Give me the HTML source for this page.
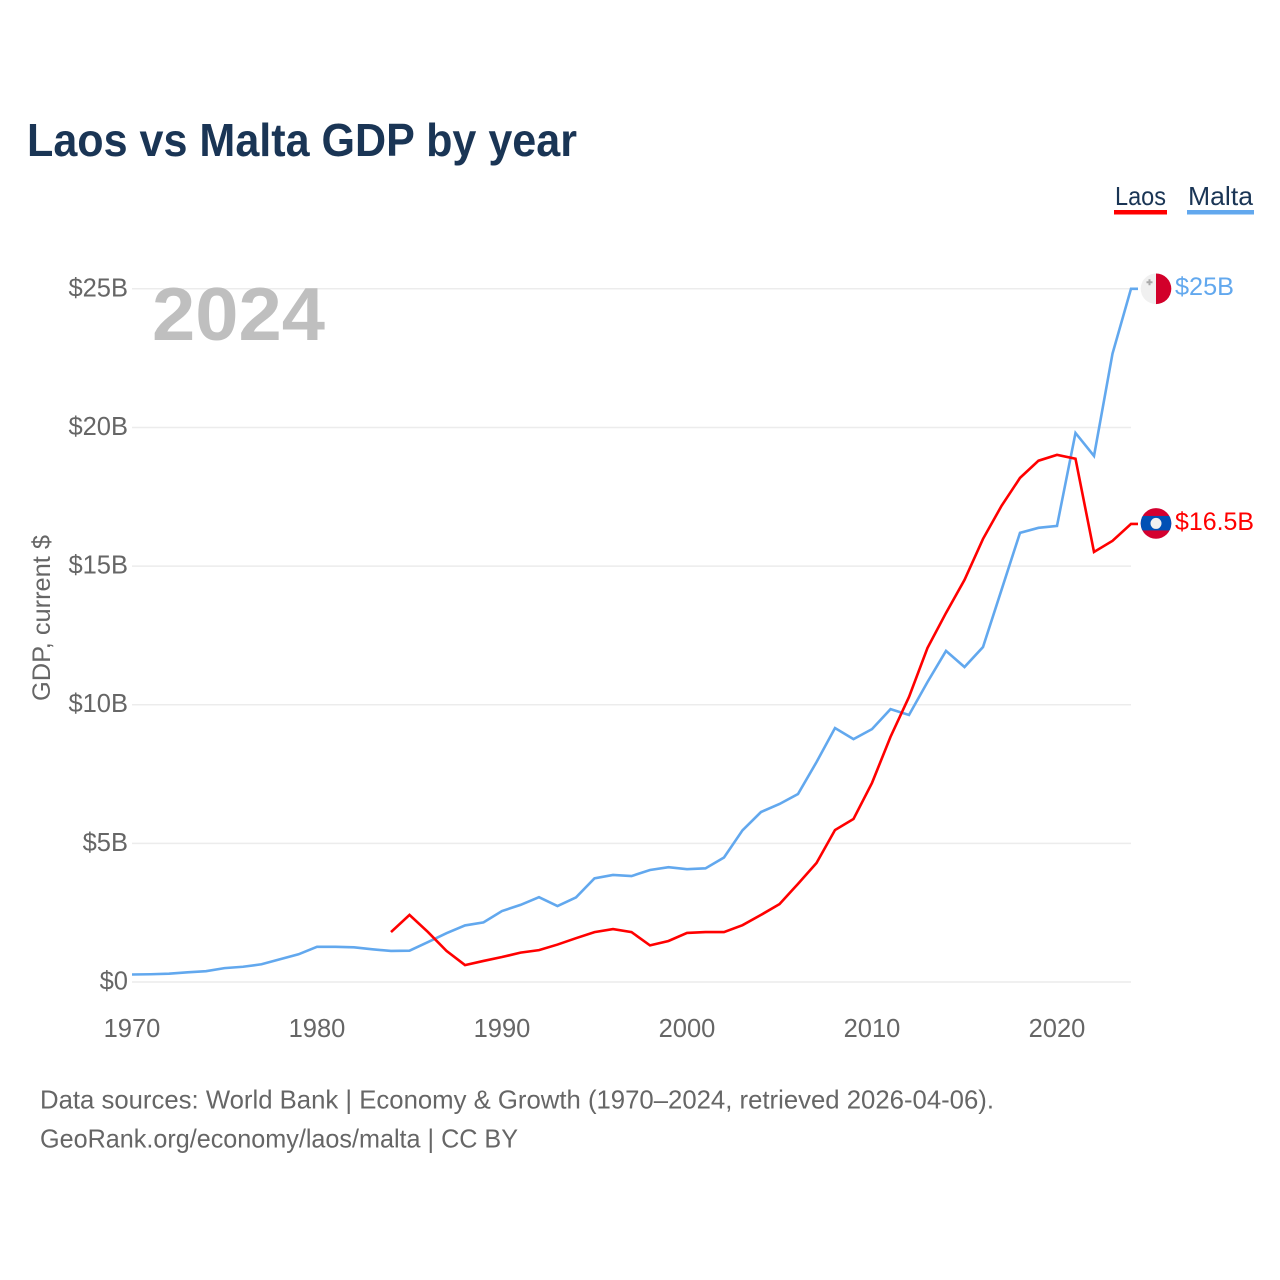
<!DOCTYPE html>
<html lang="en">
<head>
<meta charset="utf-8">
<title>Laos vs Malta GDP by year</title>
<style>
html,body{margin:0;padding:0;background:#fff;width:1280px;height:1280px;overflow:hidden}
svg{display:block;font-family:"Liberation Sans",sans-serif}
</style>
</head>
<body>
<svg id="chart" width="1280" height="1280" viewBox="0 0 1280 1280" xmlns="http://www.w3.org/2000/svg">
  <defs>
    <clipPath id="flag-clip"><circle cx="0" cy="0" r="15.3"></circle></clipPath>
  </defs>
  <text x="27" y="156" font-size="46" font-weight="700" fill="#1a3555" textLength="550" lengthAdjust="spacingAndGlyphs">Laos vs Malta GDP by year</text>

  <g>
    <g>
      <text x="1115" y="205" font-size="26" fill="#1a3555" textLength="51" lengthAdjust="spacingAndGlyphs">Laos</text>
      <rect x="1114" y="210" width="53" height="4.5" fill="#ff0000"></rect>
    </g>
    <g>
      <text x="1188" y="205" font-size="26" fill="#1a3555" textLength="65" lengthAdjust="spacingAndGlyphs">Malta</text>
      <rect x="1187" y="210" width="67" height="4.5" fill="#62a8ee"></rect>
    </g>
  </g>

  <g id="grid"></g>
  <g id="y-axis"></g>
  <g id="x-axis"></g>
  <text x="0" y="0" transform="translate(50 618) rotate(-90)" text-anchor="middle" font-size="25" fill="#666" textLength="166" lengthAdjust="spacingAndGlyphs">GDP, current $</text>

  <text x="152" y="340" font-size="75" font-weight="700" fill="#bfbfbf" textLength="173" lengthAdjust="spacingAndGlyphs">2024</text>

  <g id="series"></g>

  <g id="flag-malta">
    <g clip-path="url(#flag-clip)">
      <rect x="-16" y="-16" width="16" height="32" fill="#f0f0f0"></rect>
      <rect x="0" y="-16" width="16" height="32" fill="#d2002a"></rect>
      <path d="M-7.5 -9.5h2v2h2v2h-2v2h-2v-2h-2v-2h2z" fill="#a9a9a9"></path>
    </g>
  </g>
  <g id="flag-laos">
    <g clip-path="url(#flag-clip)">
      <rect x="-16" y="-16" width="32" height="32" fill="#d4002f"></rect>
      <rect x="-16" y="-7.5" width="32" height="14.5" fill="#0050b5"></rect>
      <circle cx="0" cy="0" r="5.5" fill="#f0f0f0"></circle>
    </g>
  </g>
  <text id="label-malta" x="1175" font-size="25" fill="#62a8ee" textLength="59" lengthAdjust="spacingAndGlyphs"></text>
  <text id="label-laos" x="1175" font-size="25" fill="#ff0000" textLength="79" lengthAdjust="spacingAndGlyphs"></text>

  <g>
    <text x="40" y="1108.5" font-size="26" fill="#666" textLength="954" lengthAdjust="spacingAndGlyphs">Data sources: World Bank | Economy &amp; Growth (1970–2024, retrieved 2026-04-06).</text>
    <text x="40" y="1147.5" font-size="26" fill="#666" textLength="478" lengthAdjust="spacingAndGlyphs">GeoRank.org/economy/laos/malta | CC BY</text>
  </g>
</svg>
<script>
const years = [1970,1971,1972,1973,1974,1975,1976,1977,1978,1979,1980,1981,1982,1983,1984,1985,1986,1987,1988,1989,1990,1991,1992,1993,1994,1995,1996,1997,1998,1999,2000,2001,2002,2003,2004,2005,2006,2007,2008,2009,2010,2011,2012,2013,2014,2015,2016,2017,2018,2019,2020,2021,2022,2023,2024];
const maltaValues = [0.27,0.28,0.30,0.35,0.39,0.50,0.55,0.64,0.82,1.00,1.27,1.27,1.25,1.18,1.12,1.13,1.44,1.76,2.04,2.15,2.56,2.78,3.06,2.74,3.05,3.74,3.86,3.82,4.04,4.14,4.07,4.10,4.49,5.47,6.13,6.42,6.78,7.93,9.16,8.76,9.12,9.84,9.63,10.82,11.94,11.36,12.08,14.14,16.20,16.38,16.45,19.80,18.97,22.66,25.0];
const laosValues = [null,null,null,null,null,null,null,null,null,null,null,null,null,null,1.80,2.42,1.80,1.12,0.61,0.76,0.90,1.06,1.15,1.35,1.58,1.80,1.91,1.80,1.32,1.48,1.77,1.80,1.80,2.05,2.42,2.81,3.54,4.29,5.48,5.88,7.18,8.84,10.28,12.05,13.31,14.50,15.98,17.17,18.18,18.80,19.01,18.87,15.51,15.91,16.52];
const yTicks = [0,5,10,15,20,25];
const yTickLabels = ["$0","$5B","$10B","$15B","$20B","$25B"];
const xTicks = [1970,1980,1990,2000,2010,2020];
const xTickLabels = ["1970","1980","1990","2000","2010","2020"];
const maltaEndLabel = "$25B";
const laosEndLabel = "$16.5B";

const NS = "http://www.w3.org/2000/svg";
const plotLeft = 132, plotRight = 1131, plotBottom = 982, plotTop = 288.8;
function xScale(year) {
  return plotLeft + (year - years[0]) / (years[years.length - 1] - years[0]) * (plotRight - plotLeft);
}
function yScale(value) {
  return plotBottom - value / 25 * (plotBottom - plotTop);
}
function make(tag) {
  return document.createElementNS(NS, tag);
}

const gridGroup = document.getElementById("grid");
const yAxisGroup = document.getElementById("y-axis");
yTicks.forEach(function (tick, i) {
  const line = make("line");
  
  
  line.setAttribute("x1", plotLeft);
  line.setAttribute("x2", plotRight);
  line.setAttribute("y1", yScale(tick));
  line.setAttribute("y2", yScale(tick));
  line.setAttribute("stroke", "#ececec");
  line.setAttribute("stroke-width", "1.5");
  gridGroup.appendChild(line);

  const label = make("text");
  
  
  label.setAttribute("x", 128);
  label.setAttribute("y", yScale(tick) + 7.5);
  label.setAttribute("text-anchor", "end");
  label.setAttribute("font-size", "25.5");
  label.setAttribute("fill", "#666");
  label.textContent = yTickLabels[i];
  yAxisGroup.appendChild(label);
});

const xAxisGroup = document.getElementById("x-axis");
xTicks.forEach(function (tick, i) {
  const label = make("text");
  
  
  label.setAttribute("x", xScale(tick));
  label.setAttribute("y", 1037);
  label.setAttribute("text-anchor", "middle");
  label.setAttribute("font-size", "25.5");
  label.setAttribute("fill", "#666");
  label.textContent = xTickLabels[i];
  xAxisGroup.appendChild(label);
});

function linePoints(values) {
  const points = [];
  values.forEach(function (value, i) {
    if (value !== null) {
      points.push(xScale(years[i]).toFixed(2) + "," + yScale(value).toFixed(2));
    }
  });
  return points;
}
const seriesGroup = document.getElementById("series");
const lastIndex = years.length - 1;
const tailLength = 7;

const maltaLine = make("polyline");


maltaLine.setAttribute("points", linePoints(maltaValues).join(" ") + " " + (xScale(years[lastIndex]) + tailLength) + "," + yScale(maltaValues[lastIndex]).toFixed(2));
maltaLine.setAttribute("fill", "none");
maltaLine.setAttribute("stroke", "#62a8ee");
maltaLine.setAttribute("stroke-width", "2.6");
seriesGroup.appendChild(maltaLine);

const laosLine = make("polyline");


laosLine.setAttribute("points", linePoints(laosValues).join(" ") + " " + (xScale(years[lastIndex]) + tailLength) + "," + yScale(laosValues[lastIndex]).toFixed(2));
laosLine.setAttribute("fill", "none");
laosLine.setAttribute("stroke", "#ff0000");
laosLine.setAttribute("stroke-width", "2.6");
seriesGroup.appendChild(laosLine);

const maltaEndY = yScale(maltaValues[lastIndex]);
const laosEndY = yScale(laosValues[lastIndex]);
document.getElementById("flag-malta").setAttribute("transform", "translate(1156 " + maltaEndY + ")");
document.getElementById("flag-laos").setAttribute("transform", "translate(1156 " + (laosEndY - 0.5) + ")");
const maltaLabel = document.getElementById("label-malta");
maltaLabel.setAttribute("y", maltaEndY + 6);
maltaLabel.textContent = maltaEndLabel;
const laosLabel = document.getElementById("label-laos");
laosLabel.setAttribute("y", laosEndY + 6);
laosLabel.textContent = laosEndLabel;
</script>
</body>
</html>
